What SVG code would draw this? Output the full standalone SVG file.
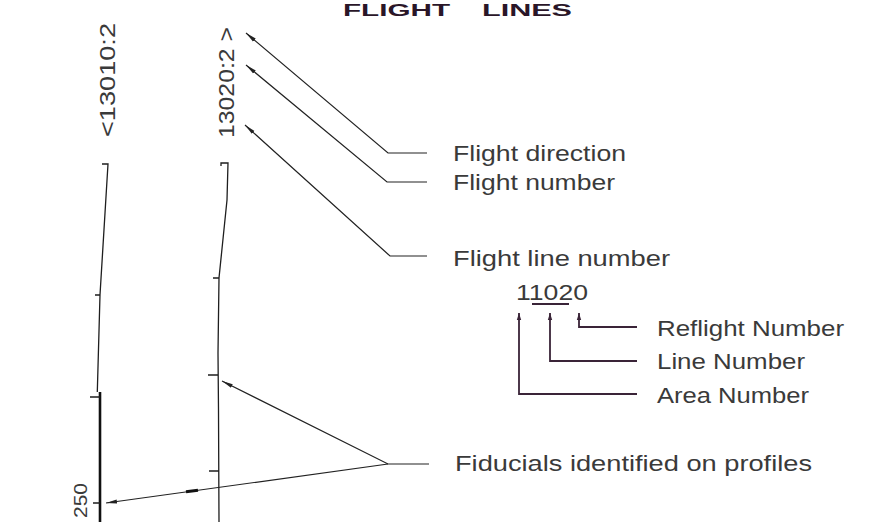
<svg xmlns="http://www.w3.org/2000/svg" width="887" height="522" viewBox="0 0 887 522">
<style>
text{font-family:"Liberation Sans",Arial,sans-serif;fill:#3a3a3a}
.lbl{font-size:22px}
.rot{font-size:22px}
.small{font-size:18px}
.title{font-size:16px;font-weight:bold;fill:#2a1628}
.ln{fill:none;stroke:#1e1e1e;stroke-width:1.3}
.thick{fill:none;stroke:#111;stroke-width:2.6}
.ldr{fill:none;stroke:#222;stroke-width:1.2}
.key{fill:none;stroke:#3a2438;stroke-width:1.8}
</style>
<defs>
<marker id="ah" markerUnits="userSpaceOnUse" markerWidth="12" markerHeight="6" refX="11" refY="3" orient="auto" viewBox="0 0 12 6"><path d="M0,1 L11,3 L0,5 z" fill="#222"/></marker>
<marker id="ak" markerUnits="userSpaceOnUse" markerWidth="8" markerHeight="6" refX="7" refY="3" orient="auto" viewBox="0 0 8 6"><path d="M0,0.8 L7,3 L0,5.2 z" fill="#3a2438"/></marker>
</defs>

<g id="title">
<text class="title" x="343" y="16" textLength="107" lengthAdjust="spacingAndGlyphs">FLIGHT</text>
<text class="title" x="482" y="16" textLength="90" lengthAdjust="spacingAndGlyphs">LINES</text>
</g>

<g id="line-13010">
<text class="rot" transform="translate(115,137) rotate(-90)" textLength="114" lengthAdjust="spacingAndGlyphs">&lt;13010:2</text>
<path class="ln" d="M102,164 H108 L100,295 L97.3,392"/>
<path class="thick" d="M100,392 V522"/>
<path class="ln" d="M95,295 H100 M90,397 H100 M93,503 H100"/>
<text class="small" transform="translate(87,518) rotate(-90)" textLength="35" lengthAdjust="spacingAndGlyphs">250</text>
</g>

<g id="line-13020">
<text class="rot" transform="translate(234,138) rotate(-90)" textLength="111" lengthAdjust="spacingAndGlyphs">13020:2 &gt;</text>
<path class="ln" d="M221,166 V163 H228 L227,200 L219,278 L218,353 L218.5,410 L219,522"/>
<path class="ln" d="M213,278 H219 M208,375 H218 M209,471 H219"/>
</g>

<g id="legend">
<text class="lbl" x="453" y="161" textLength="173" lengthAdjust="spacingAndGlyphs">Flight direction</text>
<text class="lbl" x="453" y="190" textLength="162" lengthAdjust="spacingAndGlyphs">Flight number</text>
<text class="lbl" x="453" y="266" textLength="217" lengthAdjust="spacingAndGlyphs">Flight line number</text>
<text class="lbl" x="516" y="300" textLength="72" lengthAdjust="spacingAndGlyphs">11020</text>
<text class="lbl" x="657" y="336" textLength="187" lengthAdjust="spacingAndGlyphs">Reflight Number</text>
<text class="lbl" x="657" y="369" textLength="148" lengthAdjust="spacingAndGlyphs">Line Number</text>
<text class="lbl" x="657" y="403" textLength="152" lengthAdjust="spacingAndGlyphs">Area Number</text>
<text class="lbl" x="455" y="471" textLength="357" lengthAdjust="spacingAndGlyphs">Fiducials identified on profiles</text>
</g>

<g id="connectors">
<path class="ldr" d="M427,153 H388 L246,33" marker-end="url(#ah)"/>
<path class="ldr" d="M427,182 H387 L246,65" marker-end="url(#ah)"/>
<path class="ldr" d="M427,256 H390 L245,125" marker-end="url(#ah)"/>
<path class="ldr" d="M429,464 H388 L222,381" marker-end="url(#ah)"/>
<path class="ldr" d="M388,464 L106,503" marker-end="url(#ah)"/>
<path d="M186,491.8 L198,490.2" stroke="#111" stroke-width="3"/>
<path class="key" d="M637,327 H579 V313" marker-end="url(#ak)"/>
<path class="key" d="M637,361 H550 V313" marker-end="url(#ak)"/>
<path class="key" d="M637,394 H519 V313" marker-end="url(#ak)"/>
<path class="key" d="M532,304 H569" stroke-width="1.4"/>
</g>
</svg>
